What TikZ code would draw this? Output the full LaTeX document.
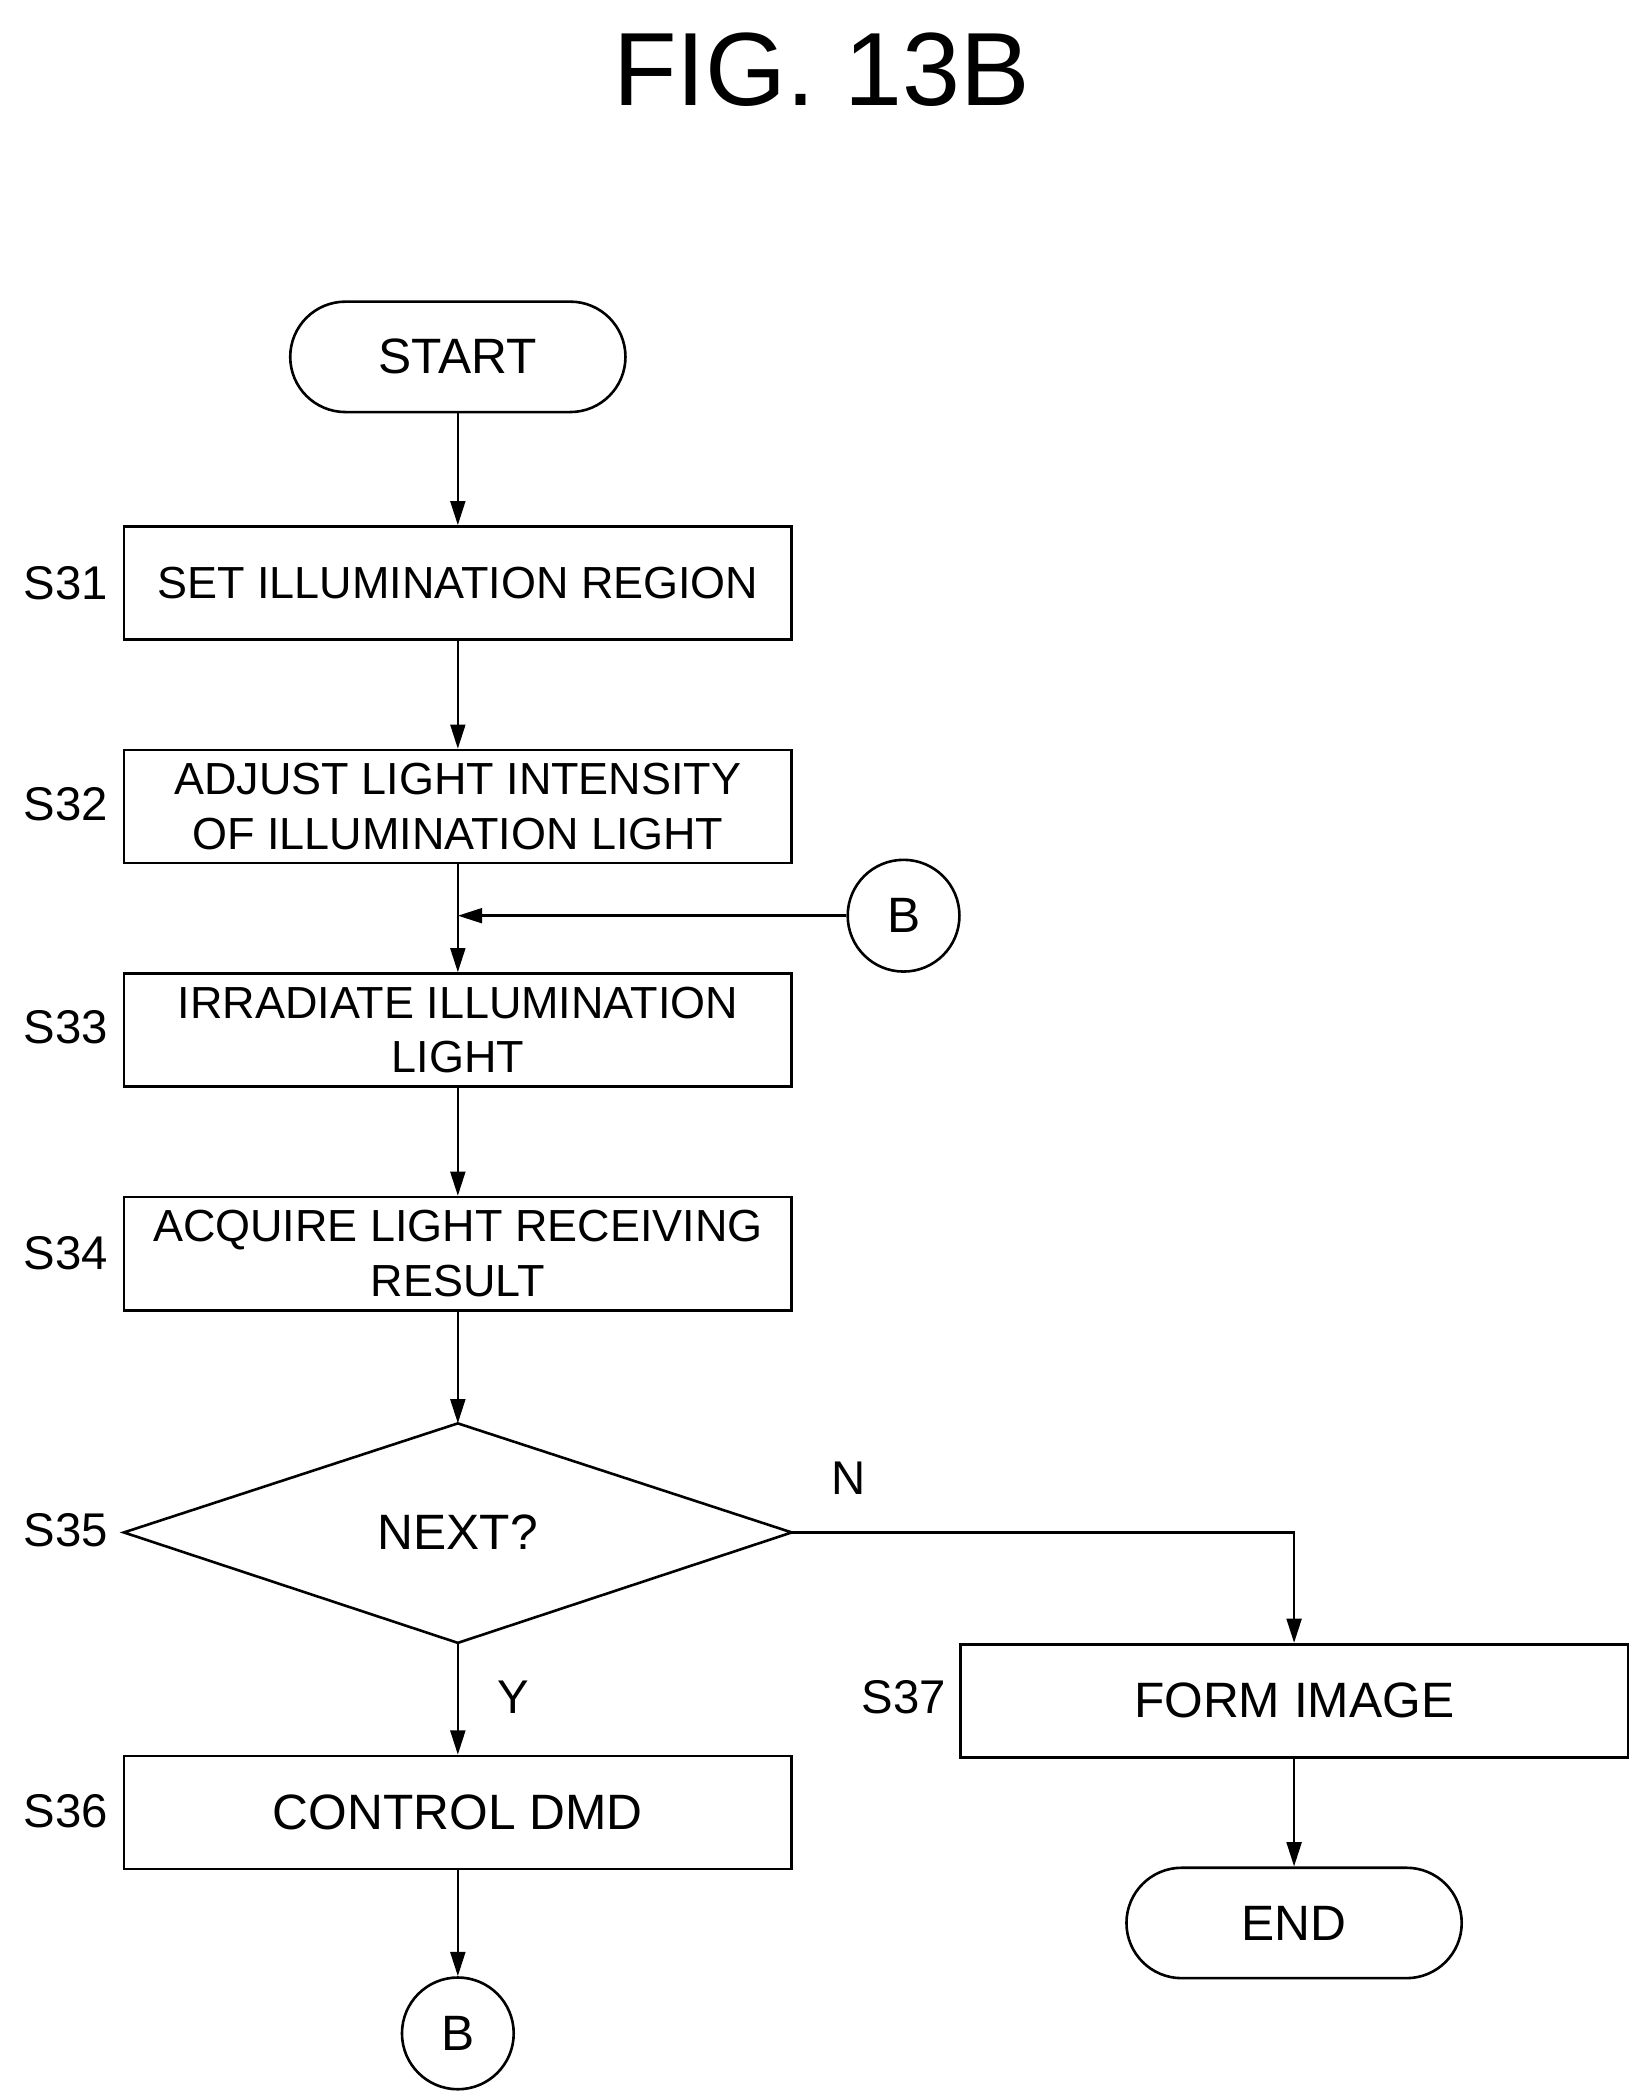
\documentclass[tikz,border=0pt]{standalone}
\usepackage{fontspec}
\setmainfont{Liberation Sans}
\usetikzlibrary{arrows.meta}
\begin{document}
\begin{tikzpicture}[x=0.02cm,y=-0.02cm,
  line width=1.1pt,
  box/.style={draw,rectangle,minimum width=9.92cm,minimum height=1.68cm,inner sep=0pt,align=center,font=\fontsize{19}{23}\selectfont},
  term/.style={draw,rectangle,rounded corners=0.82cm,minimum width=4.98cm,minimum height=1.64cm,font=\fontsize{21}{25}\selectfont},
  conn/.style={draw,circle,minimum size=1.66cm,inner sep=0pt,font=\fontsize{21}{25}\selectfont},
  lab/.style={font=\fontsize{20}{24}\selectfont},
  arr/.style={-{Triangle[length=0.36cm,width=0.22cm]}}]
\useasboundingbox (0,0) rectangle (1219,1558);
\node[font=\fontsize{44}{50}\selectfont] (title) at (610,52) {FIG. 13B};
\node[term] (start) at (340,265) {START};
\node[box] (s31) at (340,433) {SET ILLUMINATION REGION};
\node[box] (s32) at (340,599) {ADJUST LIGHT INTENSITY\\OF ILLUMINATION LIGHT};
\node[box] (s33) at (340,765) {IRRADIATE ILLUMINATION\\LIGHT};
\node[box] (s34) at (340,931) {ACQUIRE LIGHT RECEIVING\\RESULT};
\coordinate (dt) at (340,1057);
\coordinate (dl) at (92,1138);
\coordinate (dr) at (588,1138);
\coordinate (db) at (340,1220);
\draw (dt) -- (dr) -- (db) -- (dl) -- cycle;
\node[font=\fontsize{21}{25}\selectfont] (s35) at (340,1138) {NEXT?};
\node[box] (s36) at (340,1346) {\fontsize{21}{25}\selectfont CONTROL DMD};
\node[box] (s37) at (961,1263) {\fontsize{21}{25}\selectfont FORM IMAGE};
\node[term] (end) at (961,1428) {END};
\node[conn] (b1) at (671,680) {B};
\node[conn] (b2) at (340,1510) {B};
\coordinate (j) at (340,680);
\coordinate (nc) at (961,1138);
\node[lab] (l31) at (49,433) {S31};
\node[lab] (l32) at (49,597) {S32};
\node[lab] (l33) at (49,763) {S33};
\node[lab] (l34) at (49,931) {S34};
\node[lab] (l35) at (49,1136) {S35};
\node[lab] (l36) at (49,1345) {S36};
\node[lab] (l37) at (671,1260) {S37};
\node[lab] (ln) at (630,1098) {N};
\node[lab] (ly) at (381,1260) {Y};
\draw[arr] (start) -- (s31);
\draw[arr] (s31) -- (s32);
\draw[arr] (s32) -- (s33);
\draw[arr] (b1) -- (j);
\draw[arr] (s33) -- (s34);
\draw[arr] (s34) -- (dt);
\draw[arr] (db) -- (s36);
\draw[arr] (dr) -- (nc) -- (s37);
\draw[arr] (s37) -- (end);
\draw[arr] (s36) -- (b2);
\end{tikzpicture}
\end{document}
